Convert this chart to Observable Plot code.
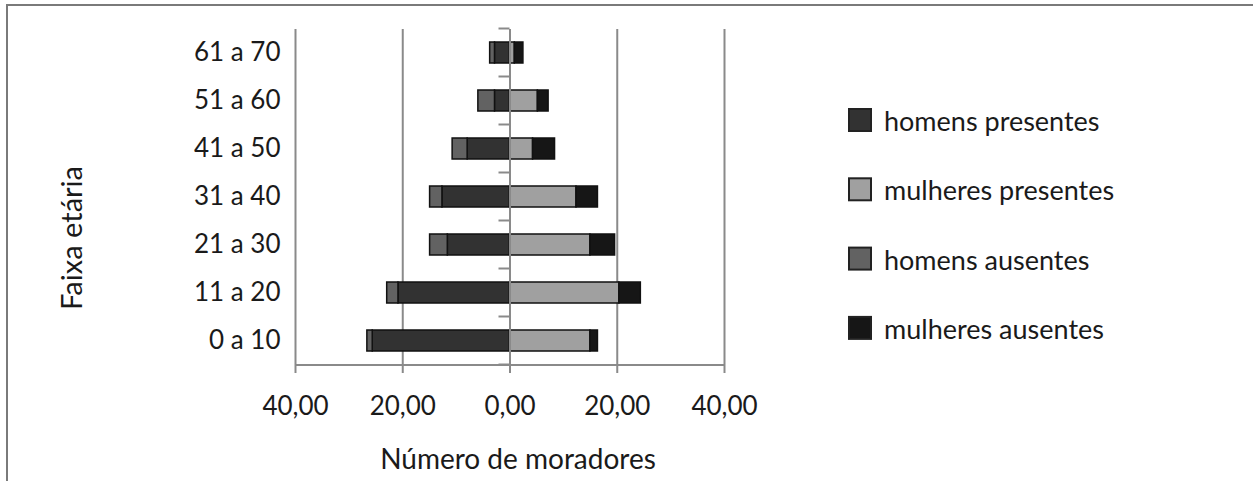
<!DOCTYPE html>
<html>
<head>
<meta charset="utf-8">
<script src="https://cdn.jsdelivr.net/npm/d3@7"></script>
<script src="https://cdn.jsdelivr.net/npm/@observablehq/plot@0.6"></script>
<style>
  html, body { margin: 0; padding: 0; background: #fff; }
  #wrap { position: relative; width: 1253px; height: 481px; overflow: hidden; font-family: Lato, sans-serif; }
  #frame { position: absolute; left: 6px; top: 4px; right: -10px; bottom: -10px; border-top: 2px solid #7a7a7a; border-left: 2px solid #7a7a7a; pointer-events: none; }
  #chart { position: absolute; left: 0; top: 0; }
</style>
</head>
<body>
<div id="wrap"><div id="chart"></div><div id="frame"></div></div>
<script>
const categories = ["0 a 10", "11 a 20", "21 a 30", "31 a 40", "41 a 50", "51 a 60", "61 a 70"];
const series = ["homens presentes", "mulheres presentes", "homens ausentes", "mulheres ausentes"];
const colors = ["#323232", "#a0a0a0", "#626262", "#161616"];
const homensPresentes   = [25.6, 20.8, 11.6, 12.6, 7.9, 2.8, 2.8];
const mulheresPresentes = [15.0, 20.4, 15.0, 12.4, 4.3, 5.2, 0.9];
const homensAusentes    = [1.0, 2.1, 3.3, 2.3, 2.8, 3.1, 0.9];
const mulheresAusentes  = [1.4, 4.0, 4.6, 4.0, 4.1, 2.0, 1.6];
const xTicks = [-40, -20, 0, 20, 40];
const xLabel = "Número de moradores";
const yLabel = "Faixa etária";

const data = categories.flatMap((c, i) => [
  {faixa: c, serie: series[0], valor: -homensPresentes[i]},
  {faixa: c, serie: series[1], valor: mulheresPresentes[i]},
  {faixa: c, serie: series[2], valor: -homensAusentes[i]},
  {faixa: c, serie: series[3], valor: mulheresAusentes[i]}
]);

const fmt = d => d3.format(".2f")(Math.abs(d)).replace(".", ",");
const W = 1253, H = 481, mL = 295, mR = 529, mT = 29, mB = 116;

const plot = Plot.plot({
  width: W, height: H,
  marginLeft: mL, marginRight: mR, marginTop: mT, marginBottom: mB,
  style: {fontFamily: "Lato, sans-serif", background: "transparent", color: "#1a1a1a"},
  x: {domain: [-40, 40]},
  y: {domain: categories.slice().reverse(), paddingInner: 0.56, paddingOuter: 0.28},
  color: {domain: series, range: colors},
  marks: [
    Plot.ruleX(xTicks.filter(d => d !== 0), {stroke: "#8a8a8a", strokeWidth: 2}),
    Plot.barX(data, {x: "valor", y: "faixa", fill: "serie", stroke: "#111", strokeWidth: 1.5}),
    Plot.ruleX([0], {stroke: "#8a8a8a", strokeWidth: 2}),
    Plot.axisX({ticks: xTicks, tickFormat: fmt, tickSize: 8, tickPadding: 23, stroke: "#8a8a8a", strokeWidth: 2, fill: "#1a1a1a", fontSize: 26, label: null}),
    Plot.axisY({tickSize: 0, tickPadding: 15, fill: "#1a1a1a", fontSize: 26, label: null})
  ]
});

document.getElementById("chart").appendChild(plot);

const svg = d3.select(plot);
const xs = plot.scale("x");
const ys = plot.scale("y");
const x0 = xs.apply(0);
const bottom = H - mB;

// x axis line
svg.append("line")
  .attr("x1", xs.apply(-40)).attr("x2", xs.apply(40))
  .attr("y1", bottom).attr("y2", bottom)
  .attr("stroke", "#8a8a8a").attr("stroke-width", 2);

// category boundary ticks on the zero axis
const gap = (ys.step - ys.bandwidth) / 2;
const bounds = ys.domain.map(c => ys.apply(c) - gap);
bounds.push(bounds[bounds.length - 1] + ys.step);
svg.append("g").selectAll("line").data(bounds).join("line")
  .attr("x1", x0 - 11).attr("x2", x0)
  .attr("y1", d => d).attr("y2", d => d)
  .attr("stroke", "#8a8a8a").attr("stroke-width", 2);

// axis titles
svg.append("text")
  .attr("x", 518).attr("y", 462)
  .attr("text-anchor", "middle").attr("dominant-baseline", "middle")
  .attr("font-size", 28).attr("fill", "#1a1a1a")
  .text(xLabel);
svg.append("text")
  .attr("transform", "translate(75,238) rotate(-90)")
  .attr("text-anchor", "middle").attr("dominant-baseline", "middle")
  .attr("font-size", 29).attr("fill", "#1a1a1a")
  .text(yLabel);

// legend
const lg = svg.append("g").attr("text-anchor", "start");
series.forEach((s, i) => {
  const cy = 120 + i * 69.3;
  lg.append("rect")
    .attr("x", 849).attr("y", cy - 11).attr("width", 22).attr("height", 22)
    .attr("fill", colors[i]).attr("stroke", "#222").attr("stroke-width", 2);
  lg.append("text")
    .attr("x", 884).attr("y", cy + 11)
    .attr("text-anchor", "start")
    .attr("font-size", 27).attr("fill", "#1a1a1a")
    .text(s);
});
</script>
</body>
</html>
